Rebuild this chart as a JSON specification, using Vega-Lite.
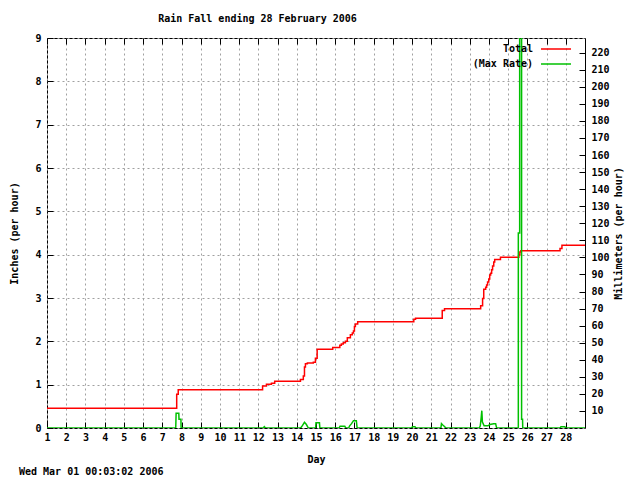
{
  "$schema": "https://vega.github.io/schema/vega-lite/v6.json",
  "width": 538,
  "height": 390,
  "padding": {"left": 9, "top": 13, "right": 5, "bottom": 5},
  "background": "white",
  "title": {"text": "Wed Mar 01 00:03:02 2006", "orient": "bottom", "anchor": "start", "frame": "group", "offset": 3, "dx": -28, "font": "DejaVu Sans Mono", "fontSize": 10, "fontWeight": "bold", "color": "black"},
  "config": {
    "view": {"stroke": "black", "strokeWidth": 1},
    "axis": {"labelFont": "DejaVu Sans Mono", "labelFontSize": 10, "labelFontWeight": "bold", "labelColor": "black", "titleFont": "DejaVu Sans Mono", "titleFontSize": 10, "titleFontWeight": "bold", "titleColor": "black", "domain": false, "tickColor": "black", "gridColor": "#a0a0a0", "gridDash": [2, 3], "gridWidth": 1, "gridOpacity": 1, "labelOverlap": false},
    "legend": {"labelFont": "DejaVu Sans Mono", "labelFontSize": 10, "labelFontWeight": "bold", "labelColor": "black"}
  },
  "datasets": {
    "total": [
      {"day": 1, "inches": 0.455},
      {"day": 7.75, "inches": 0.78},
      {"day": 7.83, "inches": 0.88},
      {"day": 12.22, "inches": 0.97},
      {"day": 12.42, "inches": 1.01},
      {"day": 12.68, "inches": 1.03},
      {"day": 12.85, "inches": 1.08},
      {"day": 14.19, "inches": 1.12},
      {"day": 14.34, "inches": 1.2},
      {"day": 14.4, "inches": 1.41},
      {"day": 14.45, "inches": 1.48},
      {"day": 14.55, "inches": 1.5},
      {"day": 14.86, "inches": 1.52},
      {"day": 14.97, "inches": 1.61},
      {"day": 15.06, "inches": 1.82},
      {"day": 15.87, "inches": 1.86},
      {"day": 16.24, "inches": 1.91},
      {"day": 16.32, "inches": 1.94},
      {"day": 16.42, "inches": 1.97},
      {"day": 16.53, "inches": 2.0},
      {"day": 16.63, "inches": 2.08},
      {"day": 16.79, "inches": 2.15},
      {"day": 16.89, "inches": 2.19},
      {"day": 16.95, "inches": 2.24},
      {"day": 17.0, "inches": 2.34},
      {"day": 17.05, "inches": 2.4},
      {"day": 17.17, "inches": 2.45},
      {"day": 20.09, "inches": 2.51},
      {"day": 20.18, "inches": 2.53},
      {"day": 21.57, "inches": 2.71},
      {"day": 21.69, "inches": 2.75},
      {"day": 23.57, "inches": 2.82},
      {"day": 23.67, "inches": 2.99},
      {"day": 23.73, "inches": 3.2},
      {"day": 23.83, "inches": 3.25},
      {"day": 23.88, "inches": 3.3},
      {"day": 23.93, "inches": 3.37},
      {"day": 23.99, "inches": 3.44},
      {"day": 24.04, "inches": 3.53},
      {"day": 24.09, "inches": 3.57},
      {"day": 24.14, "inches": 3.65},
      {"day": 24.19, "inches": 3.74},
      {"day": 24.25, "inches": 3.83},
      {"day": 24.3, "inches": 3.89},
      {"day": 24.6, "inches": 3.94},
      {"day": 25.56, "inches": 3.99},
      {"day": 25.61, "inches": 4.06},
      {"day": 25.66, "inches": 4.09},
      {"day": 27.7, "inches": 4.14},
      {"day": 27.8, "inches": 4.22},
      {"day": 29, "inches": 4.22}
    ],
    "rate": [
      {"i": 1, "day": 1, "inches": 0},
      {"i": 2, "day": 7.7, "inches": 0},
      {"i": 3, "day": 7.72, "inches": 0.34},
      {"i": 4, "day": 7.86, "inches": 0.34},
      {"i": 5, "day": 7.87, "inches": 0.2},
      {"i": 6, "day": 7.97, "inches": 0.2},
      {"i": 7, "day": 7.98, "inches": 0},
      {"i": 8, "day": 12.25, "inches": 0},
      {"i": 9, "day": 12.31, "inches": 0.03},
      {"i": 10, "day": 12.37, "inches": 0},
      {"i": 11, "day": 14.2, "inches": 0},
      {"i": 12, "day": 14.3, "inches": 0.06},
      {"i": 13, "day": 14.4, "inches": 0.13},
      {"i": 14, "day": 14.5, "inches": 0.08},
      {"i": 15, "day": 14.6, "inches": 0},
      {"i": 16, "day": 14.98, "inches": 0},
      {"i": 17, "day": 15.0, "inches": 0.12},
      {"i": 18, "day": 15.18, "inches": 0.12},
      {"i": 19, "day": 15.2, "inches": 0},
      {"i": 20, "day": 16.2, "inches": 0},
      {"i": 21, "day": 16.25, "inches": 0.04},
      {"i": 22, "day": 16.5, "inches": 0.04},
      {"i": 23, "day": 16.55, "inches": 0},
      {"i": 24, "day": 16.7, "inches": 0},
      {"i": 25, "day": 16.75, "inches": 0.05},
      {"i": 26, "day": 16.85, "inches": 0.1},
      {"i": 27, "day": 16.95, "inches": 0.17},
      {"i": 28, "day": 17.1, "inches": 0.17},
      {"i": 29, "day": 17.14, "inches": 0},
      {"i": 30, "day": 19.97, "inches": 0},
      {"i": 31, "day": 20.02, "inches": 0.03},
      {"i": 32, "day": 20.15, "inches": 0.03},
      {"i": 33, "day": 20.2, "inches": 0},
      {"i": 34, "day": 21.5, "inches": 0},
      {"i": 35, "day": 21.53, "inches": 0.1},
      {"i": 36, "day": 21.6, "inches": 0.07},
      {"i": 37, "day": 21.7, "inches": 0.03},
      {"i": 38, "day": 21.75, "inches": 0},
      {"i": 39, "day": 23.5, "inches": 0},
      {"i": 40, "day": 23.55, "inches": 0.05},
      {"i": 41, "day": 23.6, "inches": 0.25},
      {"i": 42, "day": 23.63, "inches": 0.4},
      {"i": 43, "day": 23.66, "inches": 0.14},
      {"i": 44, "day": 23.7, "inches": 0.1},
      {"i": 45, "day": 23.75, "inches": 0.05},
      {"i": 46, "day": 23.95, "inches": 0.05},
      {"i": 47, "day": 24.05, "inches": 0.08},
      {"i": 48, "day": 24.25, "inches": 0.1},
      {"i": 49, "day": 24.35, "inches": 0.1},
      {"i": 50, "day": 24.4, "inches": 0},
      {"i": 51, "day": 25.53, "inches": 0},
      {"i": 52, "day": 25.53, "inches": 4.5},
      {"i": 53, "day": 25.6, "inches": 4.5},
      {"i": 54, "day": 25.6, "inches": 12},
      {"i": 55, "day": 25.7, "inches": 12},
      {"i": 56, "day": 25.7, "inches": 0.2},
      {"i": 57, "day": 25.75, "inches": 0.2},
      {"i": 58, "day": 25.76, "inches": 0},
      {"i": 59, "day": 27.7, "inches": 0},
      {"i": 60, "day": 27.75, "inches": 0.03},
      {"i": 61, "day": 27.95, "inches": 0.03},
      {"i": 62, "day": 28.0, "inches": 0},
      {"i": 63, "day": 29, "inches": 0}
    ],
    "mmaxis": [{"day": 1, "mm": 0}]
  },
  "layer": [
    {
      "encoding": {
        "x": {"field": "day", "type": "quantitative", "scale": {"domain": [1, 29], "nice": false, "zero": false},
          "axis": {"orient": "bottom", "values": [1,2,3,4,5,6,7,8,9,10,11,12,13,14,15,16,17,18,19,20,21,22,23,24,25,26,27,28], "title": "Day", "grid": true, "tickSize": -6, "labelPadding": 10, "titlePadding": 12, "labelFlush": false, "labelOverlap": false, "labelSeparation": 0, "labelBound": false}},
        "y": {"field": "inches", "type": "quantitative", "scale": {"domain": [0, 9], "nice": false, "zero": true},
          "axis": {"orient": "left", "values": [0,1,2,3,4,5,6,7,8,9], "title": "Inches (per hour)", "grid": true, "tickSize": -6, "labelPadding": 12, "titlePadding": 15, "labelFlush": false}}
      },
      "layer": [
        {
          "data": {"name": "total"},
          "mark": {"type": "line", "interpolate": "step-after", "strokeWidth": 1.5, "clip": true},
          "encoding": {
            "color": {"datum": "Total", "type": "nominal", "scale": {"domain": ["Total", "(Max Rate)"], "range": ["#ff0000", "#00c000"]},
              "legend": {"title": null, "orient": "none", "legendX": 503, "legendY": 5, "symbolType": "M-3,0H3", "symbolSize": 100, "symbolStrokeWidth": 1.5, "labelAlign": "right", "labelOffset": -29, "rowPadding": 4}}
          }
        },
        {
          "data": {"name": "rate"},
          "mark": {"type": "line", "interpolate": "linear", "strokeWidth": 1.5, "clip": true},
          "encoding": {
            "order": {"field": "i", "type": "quantitative"},
            "color": {"datum": "(Max Rate)", "type": "nominal"}
          }
        }
      ]
    },
    {
      "data": {"name": "mmaxis"},
      "mark": {"type": "point", "opacity": 0},
      "encoding": {
        "x": {"field": "day", "type": "quantitative",
          "axis": {"orient": "top", "values": [1,2,3,4,5,6,7,8,9,10,11,12,13,14,15,16,17,18,19,20,21,22,23,24,25,26,27,28], "labels": false, "grid": false, "tickSize": -6, "title": "Rain Fall ending 28 February 2006", "titlePadding": 14, "titleX": 210}},
        "y": {"field": "mm", "type": "quantitative", "scale": {"domain": [0, 228.6], "nice": false, "zero": true},
          "axis": {"orient": "right", "values": [10,20,30,40,50,60,70,80,90,100,110,120,130,140,150,160,170,180,190,200,210,220], "title": "Millimeters (per hour)", "titleAngle": 270, "grid": false, "tickSize": -6, "labelPadding": 12, "titlePadding": 14, "labelFlush": false}}
      }
    }
  ],
  "resolve": {"scale": {"y": "independent"}, "axis": {"x": "independent", "y": "independent"}}
}
